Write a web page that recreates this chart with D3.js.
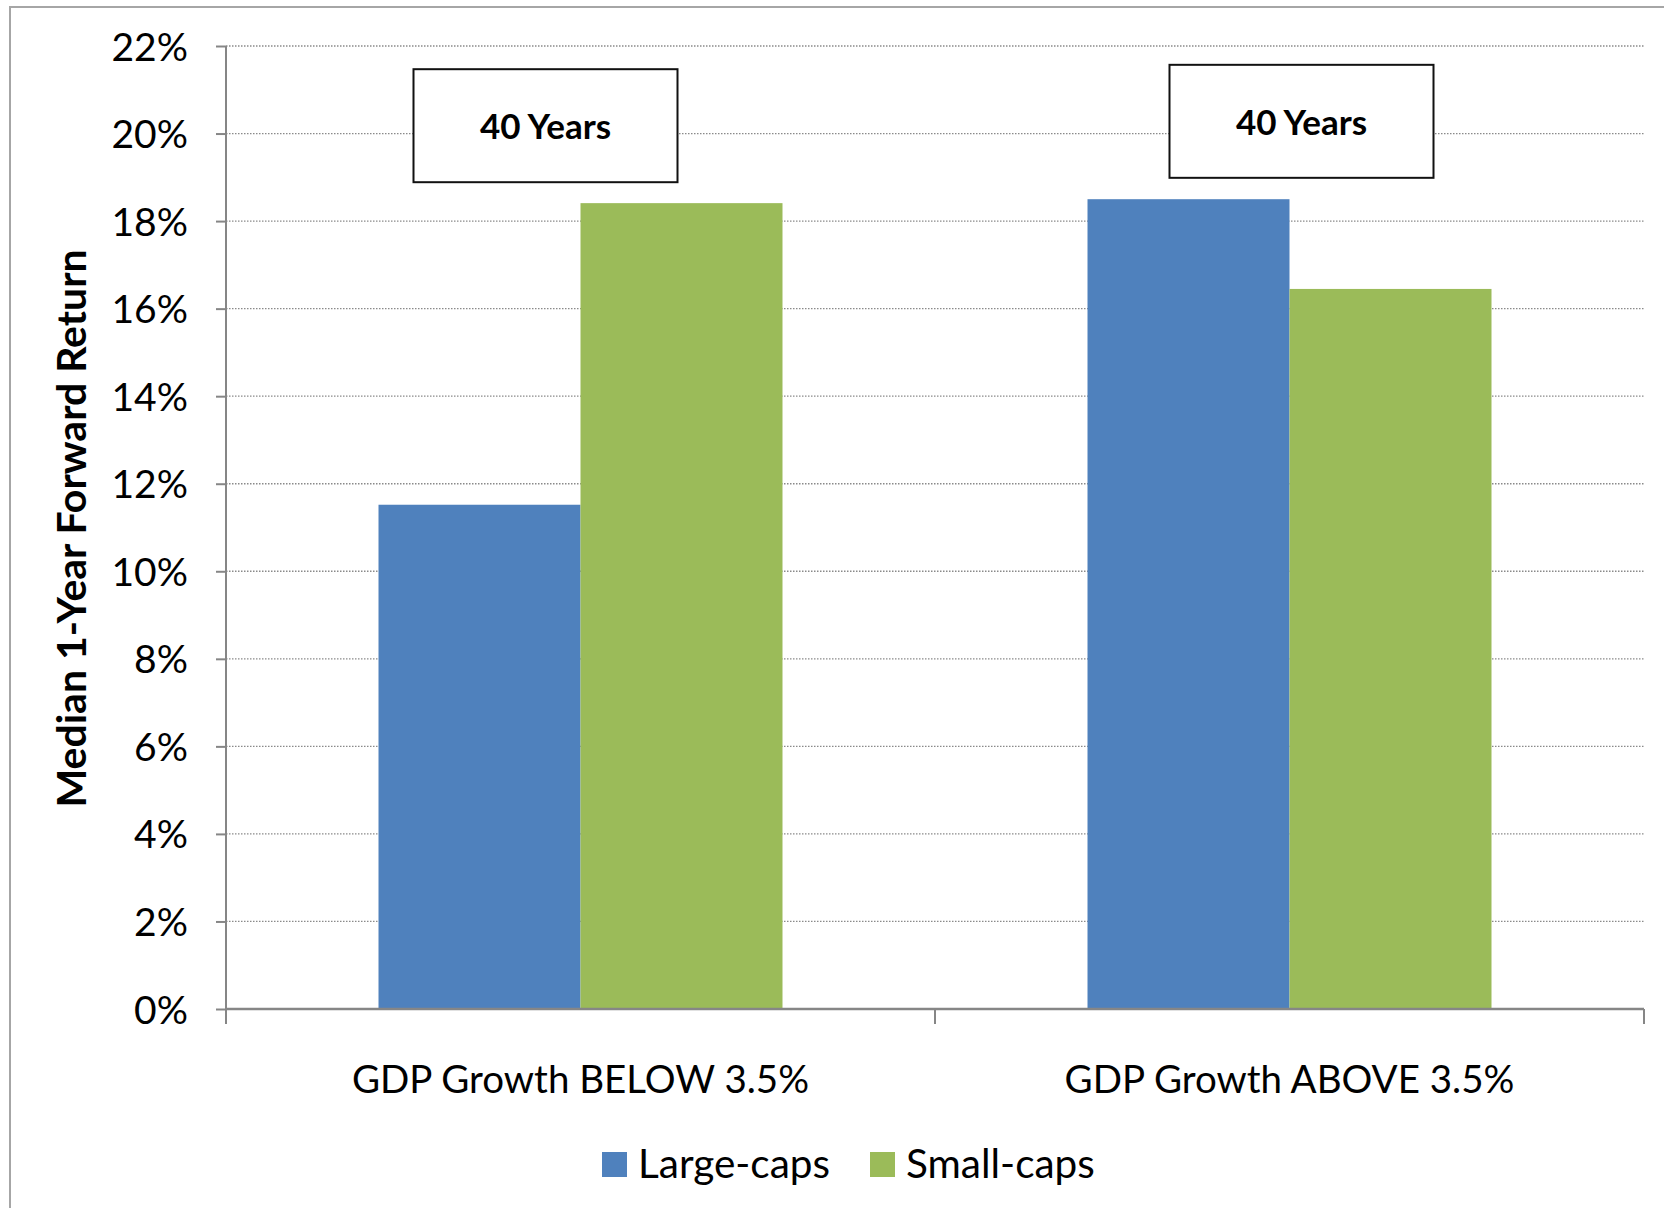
<!DOCTYPE html>
<html>
<head>
<meta charset="utf-8">
<script src="https://cdn.jsdelivr.net/npm/d3@7"></script>
<style>
  body { margin: 0; background: #fff; }
  svg { display: block; font-family: Lato, "Open Sans", sans-serif; }
</style>
</head>
<body>
<svg id="chart"></svg>
<script>
// chart values
const categories = ["GDP Growth BELOW 3.5%", "GDP Growth ABOVE 3.5%"];
const seriesNames = ["Large-caps", "Small-caps"];
const seriesColors = ["#4F81BD", "#9BBB59"];
const largeCaps = [11.52, 18.5];
const smallCaps = [18.41, 16.45];
const boxLabels = ["40 Years", "40 Years"];
const yTicks = [0, 2, 4, 6, 8, 10, 12, 14, 16, 18, 20, 22];

const width = 1664;
const height = 1208;
const margin = { top: 46, right: 20, bottom: 199, left: 226 };
const font = "Lato, 'Open Sans', sans-serif";

const svg = d3.select("#chart").attr("width", width).attr("height", height);

// outer frame
svg.append("rect")
  .attr("x", 10).attr("y", 7)
  .attr("width", width).attr("height", height)
  .attr("fill", "#fff")
  .attr("stroke", "#a6a6a6")
  .attr("stroke-width", 2);

// scales
const xScale = d3.scaleBand()
  .domain(categories)
  .range([margin.left, width - margin.right]);

const xInner = d3.scaleBand()
  .domain(seriesNames)
  .range([0, xScale.bandwidth()])
  .paddingOuter(0.755)
  .paddingInner(0);

const yScale = d3.scaleLinear()
  .domain([0, 22])
  .range([height - margin.bottom, margin.top]);

// gridlines
svg.append("g")
  .selectAll("line")
  .data(yTicks.filter((d) => d > 0))
  .join("line")
  .attr("x1", margin.left)
  .attr("x2", width - margin.right)
  .attr("y1", (d) => yScale(d))
  .attr("y2", (d) => yScale(d))
  .attr("stroke", "#8a8a8a")
  .attr("stroke-width", 1.3)
  .attr("stroke-dasharray", "1.5,1.5");

// bars
const rows = categories.map((c, i) => ({
  category: c,
  values: [largeCaps[i], smallCaps[i]],
}));

const groups = svg.append("g")
  .selectAll("g")
  .data(rows)
  .join("g")
  .attr("transform", (d) => `translate(${xScale(d.category)},0)`);

groups.selectAll("rect")
  .data((d) => d.values.map((v, j) => ({ name: seriesNames[j], value: v, color: seriesColors[j] })))
  .join("rect")
  .attr("x", (d) => xInner(d.name))
  .attr("width", xInner.bandwidth())
  .attr("y", (d) => yScale(d.value))
  .attr("height", (d) => yScale(0) - yScale(d.value))
  .attr("fill", (d) => d.color);

// y axis
const yAxis = svg.append("g")
  .attr("transform", `translate(${margin.left},0)`)
  .call(d3.axisLeft(yScale).tickValues(yTicks).tickFormat((d) => d + "%").tickSize(10).tickPadding(28));
yAxis.attr("font-family", font);
yAxis.select(".domain").remove();
yAxis.selectAll("line").attr("stroke", "#868686").attr("stroke-width", 2);
yAxis.selectAll("text")
  .attr("fill", "#000")
  .style("font-size", "39px")
  .attr("dy", "0.36em");
yAxis.append("line")
  .attr("x1", 0).attr("x2", 0)
  .attr("y1", margin.top).attr("y2", yScale(0) + 15)
  .attr("stroke", "#868686")
  .attr("stroke-width", 2);

// x axis
const xAxis = svg.append("g")
  .attr("transform", `translate(0,${yScale(0)})`);
xAxis.append("line")
  .attr("x1", margin.left).attr("x2", width - margin.right)
  .attr("stroke", "#868686")
  .attr("stroke-width", 2.5);
xAxis.selectAll(".cat-tick")
  .data(categories.slice(1).map((c) => xScale(c)).concat([xScale.range()[1]]))
  .join("line")
  .attr("class", "cat-tick")
  .attr("x1", (d) => d).attr("x2", (d) => d)
  .attr("y1", 0).attr("y2", 15)
  .attr("stroke", "#868686")
  .attr("stroke-width", 2);
xAxis.selectAll(".cat-label")
  .data(categories)
  .join("text")
  .attr("class", "cat-label")
  .attr("x", (d) => xScale(d) + xScale.bandwidth() / 2)
  .attr("y", 84)
  .attr("text-anchor", "middle")
  .style("font-size", "38.5px")
  .text((d) => d);

// annotation boxes
const boxOffsets = [-35, 12];
const boxTops = [21.47, 21.57];
const boxW = 264;
const boxH = 113;
boxLabels.forEach((label, i) => {
  const cx = xScale(categories[i]) + xScale.bandwidth() / 2 + boxOffsets[i];
  const top = yScale(boxTops[i]);
  svg.append("rect")
    .attr("x", cx - boxW / 2)
    .attr("y", top)
    .attr("width", boxW)
    .attr("height", boxH)
    .attr("fill", "#fff")
    .attr("stroke", "#111")
    .attr("stroke-width", 2);
  svg.append("text")
    .attr("x", cx)
    .attr("y", top + 70)
    .attr("text-anchor", "middle")
    .style("font-size", "35px")
    .style("font-weight", "bold")
    .text(label);
});

// y axis title
svg.append("text")
  .attr("transform", `translate(86,${(yScale(0) + yScale(22)) / 2 + 1}) rotate(-90)`)
  .attr("text-anchor", "middle")
  .style("font-size", "41px")
  .style("font-weight", "bold")
  .text("Median 1-Year Forward Return");

// legend
const legendX = [602, 870];
const legend = svg.append("g").attr("transform", `translate(0,${1152})`);
seriesNames.forEach((name, i) => {
  legend.append("rect")
    .attr("x", legendX[i])
    .attr("y", 0)
    .attr("width", 25)
    .attr("height", 25)
    .attr("fill", seriesColors[i]);
  legend.append("text")
    .attr("x", legendX[i] + 36)
    .attr("y", 26)
    .style("font-size", "40.5px")
    .text(name);
});
</script>
</body>
</html>
